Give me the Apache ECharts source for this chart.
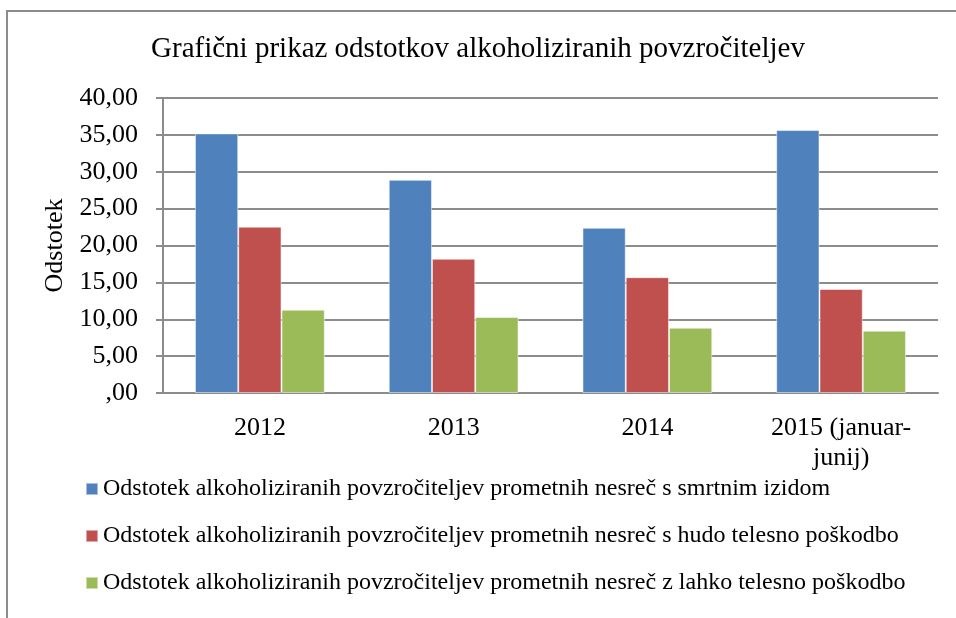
<!DOCTYPE html>
<html>
<head>
<meta charset="utf-8">
<script src="https://cdn.jsdelivr.net/npm/echarts@6/dist/echarts.min.js"></script>
<style>
  html, body { margin: 0; padding: 0; background: #fff; }
  #chart { width: 956px; height: 618px; }
</style>
</head>
<body>
<div id="chart"></div>
<script>
const categories = ["2012", "2013", "2014", "2015 (januar-\njunij)"];
const seriesNames = [
  "Odstotek alkoholiziranih povzročiteljev prometnih nesreč s smrtnim izidom",
  "Odstotek alkoholiziranih povzročiteljev prometnih nesreč s hudo telesno poškodbo",
  "Odstotek alkoholiziranih povzročiteljev prometnih nesreč z lahko telesno poškodbo"
];
const smrtni = [35.2, 28.9, 22.4, 35.65];
const hudo = [22.55, 18.2, 15.7, 14.1];
const lahko = [11.3, 10.3, 8.85, 8.45];
const colors = ["#4F81BD", "#C0504D", "#9BBB59"];

const font = "Liberation Serif";
const chart = echarts.init(document.getElementById("chart"));

chart.setOption({
  animation: false,
  textStyle: { fontFamily: font },
  graphic: [{
    type: "rect",
    shape: { x: 7, y: 11, width: 1000, height: 700 },
    style: { fill: "none", stroke: "#8c8c8c", lineWidth: 2 }
  }],
  title: {
    text: "Grafični prikaz odstotkov alkoholiziranih povzročiteljev",
    left: "center",
    top: 30,
    textStyle: { fontFamily: font, fontSize: 29, fontWeight: "normal", color: "#000" }
  },
  legend: {
    orient: "vertical",
    left: 85,
    top: 477,
    padding: 0,
    itemWidth: 12,
    itemHeight: 12,
    itemGap: 23,
    icon: "rect",
    textStyle: { fontFamily: font, fontSize: 24, color: "#000" },
    data: seriesNames
  },
  grid: { left: 163, right: 18, top: 98, bottom: 225 },
  xAxis: {
    type: "category",
    data: categories,
    axisLine: { lineStyle: { color: "#8c8c8c", width: 2 } },
    axisTick: { length: 7, lineStyle: { color: "#8c8c8c", width: 2 } },
    axisLabel: { fontFamily: font, fontSize: 26, color: "#000", margin: 20, lineHeight: 30 }
  },
  yAxis: {
    type: "value",
    min: 0,
    max: 40,
    interval: 5,
    name: "Odstotek",
    nameLocation: "middle",
    nameRotate: 90,
    nameGap: 95,
    nameTextStyle: { fontFamily: font, fontSize: 26, color: "#000" },
    axisLine: { show: true, lineStyle: { color: "#8c8c8c", width: 2 } },
    axisTick: { show: true, length: 7, lineStyle: { color: "#8c8c8c", width: 2 } },
    splitLine: { lineStyle: { color: "#8c8c8c", width: 2 } },
    axisLabel: {
      fontFamily: font, fontSize: 26, color: "#000", margin: 25,
      formatter: v => v === 0 ? ",00" : v.toFixed(2).replace(".", ",")
    }
  },
  series: [smrtni, hudo, lahko].map((d, i) => ({
    name: seriesNames[i],
    type: "bar",
    data: d,
    barGap: "0%",
    barCategoryGap: "33%",
    itemStyle: { color: colors[i], borderColor: "rgba(255,255,255,0.5)", borderWidth: 1 }
  }))
});
</script>
</body>
</html>
